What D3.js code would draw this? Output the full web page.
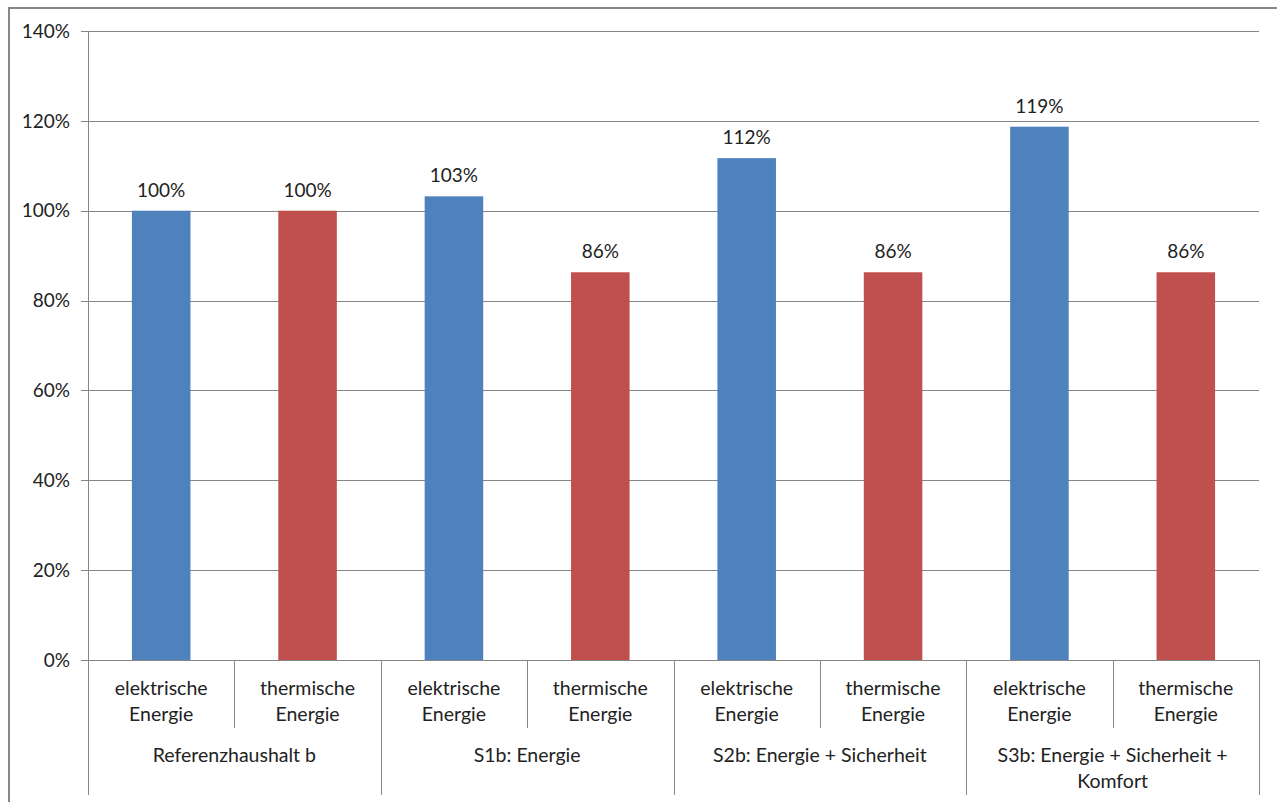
<!DOCTYPE html>
<html><head><meta charset="utf-8">
<script src="https://cdn.jsdelivr.net/npm/d3@7"></script>
<style>
html,body{margin:0;padding:0;background:#fff;}
svg text{font-family:Lato,"Open Sans",sans-serif;fill:#222;}
</style></head>
<body>
<svg id="c" width="1277" height="802"></svg>
<script>
const groups = ["Referenzhaushalt b", "S1b: Energie", "S2b: Energie + Sicherheit", "S3b: Energie + Sicherheit + Komfort"];
const subcats = ["elektrische Energie", "thermische Energie"];
const elektrisch = [100, 103.2, 111.7, 118.7];
const thermisch = [100, 86.3, 86.3, 86.3];
const yTicks = [0, 20, 40, 60, 80, 100, 120, 140];
const colors = {el: "#4F81BD", th: "#C0504D"};

const svg = d3.select("#c");
const L = 88, R = 1259, T = 31, B = 660;

// outer frame
svg.append("rect").attr("x", 9).attr("y", 8).attr("width", 1277).attr("height", 900)
  .attr("fill", "none").attr("stroke", "#868686").attr("stroke-width", 2);

const y = d3.scaleLinear().domain([0, 140]).range([B, T]);
const rows = [];
groups.forEach((g, i) => {
  rows.push({g: i, sub: 0, v: elektrisch[i], c: colors.el});
  rows.push({g: i, sub: 1, v: thermisch[i], c: colors.th});
});
const x = d3.scaleBand().domain(d3.range(rows.length)).range([L, R]).paddingInner(0).paddingOuter(0);
const barW = x.bandwidth() * 0.4;

// gridlines
svg.append("g").selectAll("line").data(yTicks).join("line")
  .attr("x1", L - 7).attr("x2", R).attr("y1", d => Math.round(y(d)) + 0.5).attr("y2", d => Math.round(y(d)) + 0.5)
  .attr("stroke", "#868686").attr("stroke-width", 1);

// y axis line
svg.append("line").attr("x1", L + 0.5).attr("x2", L + 0.5).attr("y1", T).attr("y2", B)
  .attr("stroke", "#868686");

// y labels
svg.append("g").selectAll("text").data(yTicks).join("text")
  .attr("x", L - 18).attr("y", d => y(d)).attr("dy", "0.35em")
  .attr("text-anchor", "end").attr("font-size", 19).text(d => d + "%");

// bars
svg.append("g").selectAll("rect").data(rows).join("rect")
  .attr("x", (d, i) => x(i) + (x.bandwidth() - barW) / 2)
  .attr("width", barW)
  .attr("y", d => y(d.v)).attr("height", d => B - y(d.v))
  .attr("fill", d => d.c);

// data labels
svg.append("g").selectAll("text").data(rows).join("text")
  .attr("x", (d, i) => x(i) + x.bandwidth() / 2)
  .attr("y", d => y(d.v) - 14)
  .attr("text-anchor", "middle").attr("font-size", 19)
  .text(d => Math.round(d.v) + "%");

// category separators
const seps = svg.append("g").attr("stroke", "#868686").attr("stroke-width", 1);
for (let i = 0; i <= rows.length; i++) {
  const xx = Math.round(i < rows.length ? x(i) : R) + 0.5;
  const major = i % 2 === 0;
  seps.append("line").attr("x1", xx).attr("x2", xx).attr("y1", B).attr("y2", major ? 795 : 728);
}

// subcategory labels
rows.forEach((d, i) => {
  const parts = subcats[d.sub].split(" ");
  const t = svg.append("text").attr("text-anchor", "middle").attr("font-size", 19.5);
  parts.forEach((p, j) => t.append("tspan").attr("x", x(i) + x.bandwidth() / 2).attr("y", 695 + j * 26).text(p));
});

// group labels
groups.forEach((g, i) => {
  const cx = (x(i * 2) + x(i * 2 + 1) + x.bandwidth()) / 2;
  const lines = g === "S3b: Energie + Sicherheit + Komfort" ? ["S3b: Energie + Sicherheit +", "Komfort"] : [g];
  const t = svg.append("text").attr("text-anchor", "middle").attr("font-size", 19.5);
  lines.forEach((p, j) => t.append("tspan").attr("x", cx).attr("y", 762 + j * 26).text(p));
});
</script>
</body></html>
